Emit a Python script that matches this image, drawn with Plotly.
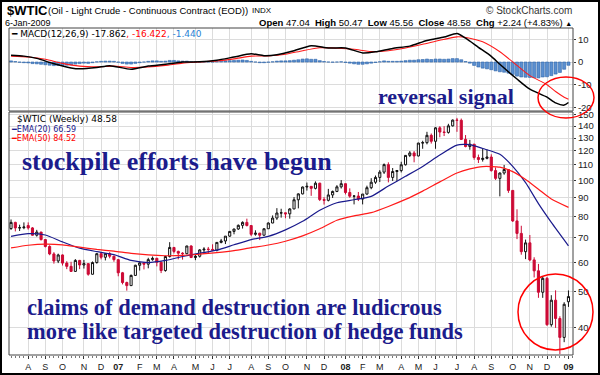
import pandas as pd
import plotly.graph_objects as go

# ---------------- data ----------------
week_start = "2006-07-10"
n_weeks = 131
weeks = pd.date_range(week_start, periods=n_weeks, freq="7D")

opens = [74.1, 77.0, 74.4, 74.5, 75.5, 74.4, 71.1, 72.5, 69.2, 66.3, 63.3, 60.6, 62.9, 59.8, 58.6, 56.8, 60.8, 59.1, 59.6, 55.8, 60.0, 63.4, 62.0, 63.4, 62.4,
         61.1, 56.3, 53.0, 52.0, 55.4, 59.0, 59.9, 59.4, 61.1, 61.6, 60.1, 57.1, 62.3, 65.9, 64.3, 63.6, 63.4, 66.5, 61.9, 62.4, 64.9, 65.2, 65.1, 64.8, 68.0,
         68.6, 70.7, 72.8, 73.9, 75.6, 77.0, 75.5, 71.5, 72.0, 71.1, 74.0, 76.7, 79.1, 81.6, 81.7, 81.2, 83.7, 88.6, 91.9, 95.9, 96.3, 95.1, 98.2, 88.7, 88.3,
         91.3, 93.3, 96.0, 97.9, 92.7, 90.6, 90.7, 89.0, 91.8, 95.5, 98.8, 101.8, 105.2, 110.2, 101.8, 105.6, 106.2, 110.1, 116.7, 118.5, 116.3, 126.0, 126.3, 132.2, 127.4,
         138.5, 134.9, 134.6, 140.2, 145.3, 145.1, 128.9, 123.3, 125.1, 115.2, 113.8, 114.6, 115.5, 106.2, 101.2, 104.6, 106.9, 93.9, 77.7, 71.9, 64.2, 67.8, 61.0, 57.0, 49.9,
         54.4, 40.8, 47.5, 42.4, 37.7, 47.04]
highs = [78.4, 77.3, 75.9, 77.0, 77.0, 74.8, 73.5, 72.6, 69.4, 66.8, 64.0, 63.4, 63.1, 60.5, 60.3, 61.3, 61.0, 61.0, 59.7, 60.4, 63.6, 63.9, 63.5, 64.0, 62.6,
         61.3, 56.6, 53.3, 55.7, 59.2, 60.4, 60.1, 61.8, 62.3, 61.8, 60.4, 62.6, 68.1, 66.1, 64.6, 64.0, 66.6, 66.8, 63.1, 65.2, 66.0, 66.1, 67.2, 68.1, 69.5,
         70.7, 72.9, 74.0, 76.0, 77.5, 78.8, 75.6, 73.3, 72.2, 74.2, 77.0, 80.4, 84.1, 83.8, 81.8, 84.1, 90.1, 92.2, 96.2, 98.6, 96.4, 99.3, 98.5, 90.1, 94.8,
         93.8, 97.0, 100.1, 98.0, 95.1, 91.0, 93.0, 91.8, 96.7, 101.3, 103.0, 106.5, 111.0, 111.8, 107.9, 106.6, 112.2, 117.0, 119.9, 119.9, 126.2, 127.8, 135.1, 133.7, 139.1,
         139.9, 139.9, 142.0, 145.9, 147.3, 146.7, 132.4, 128.5, 125.3, 117.3, 122.2, 121.1, 117.5, 108.3, 105.0, 110.0, 107.0, 94.0, 83.5, 75.4, 69.2, 71.2, 62.0, 59.5, 55.0,
         54.9, 49.0, 50.5, 43.0, 46.9, 50.47]
lows = [73.5, 72.8, 73.0, 73.8, 73.6, 70.9, 70.5, 68.8, 65.9, 62.8, 59.6, 59.8, 58.9, 57.6, 56.6, 56.6, 57.6, 57.8, 55.3, 55.7, 59.6, 61.2, 60.8, 61.6, 60.3,
        55.1, 52.4, 50.4, 51.9, 55.2, 57.1, 57.5, 57.9, 60.7, 58.6, 56.2, 56.7, 61.9, 63.5, 61.2, 61.1, 63.2, 61.7, 60.9, 61.9, 63.3, 63.4, 64.6, 64.3, 67.6,
        67.3, 70.3, 71.5, 73.5, 74.1, 75.1, 70.7, 70.9, 69.0, 71.0, 73.9, 76.6, 78.2, 79.3, 79.0, 78.8, 83.6, 84.0, 91.6, 93.8, 90.8, 94.5, 87.9, 86.0, 87.7,
        89.6, 92.9, 95.0, 91.6, 89.7, 86.1, 87.9, 86.1, 91.4, 94.6, 97.8, 98.9, 104.0, 98.7, 99.6, 99.6, 105.0, 109.6, 115.5, 111.8, 116.0, 121.6, 125.0, 125.6, 121.6,
        130.6, 131.6, 133.6, 139.6, 135.1, 128.6, 122.7, 120.9, 113.6, 111.3, 112.3, 113.9, 105.5, 100.2, 90.5, 103.5, 92.5, 77.2, 69.4, 63.0, 61.3, 60.5, 54.7, 48.2, 48.2,
        40.5, 40.3, 40.0, 34.0, 36.6, 45.56]
closes = [77.0, 74.4, 74.5, 74.8, 74.4, 71.1, 72.5, 69.2, 66.3, 63.3, 60.6, 62.9, 59.8, 58.6, 56.8, 60.8, 59.1, 59.6, 55.8, 60.0, 63.4, 62.0, 63.4, 62.4, 61.1,
          56.3, 53.0, 52.0, 55.4, 59.0, 59.9, 59.4, 61.1, 61.6, 60.1, 57.1, 62.3, 65.9, 64.3, 63.6, 63.4, 66.5, 61.9, 62.4, 64.9, 65.2, 65.1, 64.8, 68.0, 68.6,
          70.7, 72.8, 73.9, 75.6, 77.0, 75.5, 71.5, 72.0, 71.1, 74.0, 76.7, 79.1, 81.6, 81.7, 81.2, 83.7, 88.6, 91.9, 95.9, 96.3, 95.1, 98.2, 88.7, 88.3, 91.3,
          93.3, 96.0, 97.9, 92.7, 90.6, 90.7, 89.0, 91.8, 95.5, 98.8, 101.8, 105.2, 110.2, 101.8, 105.6, 106.2, 110.1, 116.7, 118.5, 116.3, 126.0, 126.3, 132.2, 127.4, 138.5,
          134.9, 134.6, 140.2, 145.3, 145.1, 128.9, 123.3, 125.1, 115.2, 113.8, 114.6, 115.5, 106.2, 101.2, 104.6, 106.9, 93.9, 77.7, 71.9, 64.2, 67.8, 61.0, 57.0, 49.9, 54.4,
          40.8, 47.5, 42.4, 37.7, 46.3, 48.58]

ema_dates = ["2006-07-10", "2006-08-07", "2006-09-04", "2006-10-02", "2006-10-30", "2006-11-27", "2006-12-25", "2007-01-22", "2007-02-19",
             "2007-03-19", "2007-04-16", "2007-05-14", "2007-06-11", "2007-07-09", "2007-08-06", "2007-09-03", "2007-10-01", "2007-10-29",
             "2007-11-26", "2007-12-24", "2008-01-21", "2008-02-18", "2008-03-17", "2008-04-14", "2008-05-12", "2008-06-09", "2008-07-07",
             "2008-07-28", "2008-08-18", "2008-09-15", "2008-10-06", "2008-10-27", "2008-11-17", "2008-12-08", "2009-01-05"]
ema20 = [70.6, 71.8, 71.2, 68.2, 65.6, 64.2, 63.0, 60.8, 60.0, 60.8, 62.3, 63.6, 64.8, 67.0, 69.2, 70.6, 73.5, 77.5, 83.0, 87.0,
         88.6, 90.5, 96.5, 102.5, 109.0, 117.0, 124.4, 124.8, 121.8, 117.5, 109.0, 98.5, 86.5, 77.0, 66.59]
ema50 = [65.7, 66.8, 67.3, 67.0, 66.0, 65.1, 64.4, 63.5, 62.9, 62.6, 62.7, 63.2, 63.8, 64.6, 65.8, 66.9, 68.5, 70.8, 74.0, 78.0,
         80.2, 81.8, 85.0, 88.8, 93.5, 99.0, 104.6, 107.3, 108.9, 108.5, 105.5, 100.5, 94.6, 89.0, 84.52]

macd_dates = ["2006-07-10", "2006-07-31", "2006-08-21", "2006-09-18", "2006-10-16", "2006-10-30", "2006-11-27", "2006-12-18", "2007-01-22",
              "2007-02-19", "2007-03-19", "2007-04-16", "2007-05-14", "2007-06-11", "2007-07-09", "2007-08-06", "2007-08-27", "2007-09-17",
              "2007-10-15", "2007-11-12", "2007-12-10", "2008-01-07", "2008-02-04", "2008-02-25", "2008-03-24", "2008-04-21", "2008-05-19",
              "2008-06-16", "2008-07-07", "2008-07-21", "2008-08-11", "2008-09-01", "2008-09-15", "2008-10-13", "2008-11-03", "2008-12-01",
              "2008-12-15", "2008-12-29", "2009-01-05"]
macd_line = [3.0, 2.6, 1.6, -0.8, -2.6, -3.0, -2.4, -1.6, -3.2, -1.8, -1.0, 0.0, 0.1, 0.8, 2.2, 3.6, 2.8, 3.2, 5.0, 7.2,
             6.2, 6.2, 4.0, 4.5, 6.0, 7.0, 9.5, 11.0, 12.6, 10.5, 6.5, 2.5, -1.0, -7.5, -12.0, -15.5, -18.0, -19.0, -17.862]
signal_dates = ["2006-07-10", "2006-08-07", "2006-09-04", "2006-10-02", "2006-10-30", "2006-11-27", "2006-12-25", "2007-01-22", "2007-02-19",
                "2007-03-19", "2007-04-16", "2007-05-14", "2007-06-11", "2007-07-09", "2007-08-06", "2007-09-03", "2007-10-01", "2007-10-29",
                "2007-11-26", "2007-12-24", "2008-01-21", "2008-02-18", "2008-03-17", "2008-04-14", "2008-05-12", "2008-06-09", "2008-07-07",
                "2008-07-28", "2008-08-18", "2008-09-15", "2008-10-13", "2008-11-03", "2008-12-01", "2008-12-15", "2008-12-29", "2009-01-05"]
signal_line = [2.6, 2.2, 1.2, -0.6, -1.8, -2.1, -1.8, -2.4, -2.2, -1.5, -0.5, 0.0, 0.5, 1.4, 2.6, 2.7, 3.4, 5.0, 6.3, 6.1,
               5.6, 4.6, 5.0, 6.2, 7.8, 9.6, 11.1, 10.5, 8.9, 4.5, -1.5, -6.0, -10.0, -13.0, -15.5, -16.422]
macd_hist = [0.5, 0.2, -0.1, -0.3, -0.4, -0.7, -0.8, -1.0, -1.2, -1.4, -1.6, -1.5, -1.5, -1.4, -1.3, -0.9, -0.7, -0.5, -0.6, -0.3, 0.1, 0.3, 0.4, 0.4, 0.3,
             -0.1, -0.6, -0.9, -0.9, -0.6, -0.3, 0.0, 0.3, 0.5, 0.5, 0.3, 0.4, 0.7, 0.7, 0.5, 0.4, 0.4, 0.1, -0.1, 0.0, 0.1, 0.1, 0.0, 0.2, 0.3,
             0.5, 0.6, 0.7, 0.8, 0.9, 0.7, 0.3, 0.0, -0.3, -0.3, -0.1, 0.1, 0.4, 0.5, 0.5, 0.6, 0.8, 1.0, 1.3, 1.4, 1.2, 1.2, 0.6, 0.2, 0.0,
             -0.1, 0.0, 0.1, -0.2, -0.5, -0.8, -1.0, -1.0, -0.8, -0.5, -0.2, 0.1, 0.5, 0.3, 0.3, 0.3, 0.4, 0.6, 0.8, 0.8, 1.0, 1.1, 1.3, 1.1, 1.3,
             1.3, 1.2, 1.3, 1.5, 1.5, 1.0, 0.2, -0.5, -1.5, -2.2, -2.7, -3.0, -3.4, -3.9, -4.3, -4.5, -4.9, -5.5, -6.2, -6.6, -6.7, -6.8, -6.9, -7.0, -6.6,
             -6.5, -6.0, -5.3, -4.6, -3.2, -1.44]

month_ticks = ["2006-08-07", "2006-09-04", "2006-10-02", "2006-11-06", "2006-12-04", "2007-01-01", "2007-02-05", "2007-03-05", "2007-04-02",
               "2007-05-07", "2007-06-04", "2007-07-02", "2007-08-06", "2007-09-03", "2007-10-01", "2007-11-05", "2007-12-03", "2008-01-07",
               "2008-02-04", "2008-03-03", "2008-04-07", "2008-05-05", "2008-06-02", "2008-07-07", "2008-08-04", "2008-09-01", "2008-10-06",
               "2008-11-03", "2008-12-01", "2009-01-05"]
month_labels = ["A", "S", "O", "N", "D", "<b>07</b>", "F", "M", "A", "M", "J", "J", "A", "S", "O", "N", "D", "<b>08</b>",
                "F", "M", "A", "M", "J", "J", "A", "S", "O", "N", "D", "<b>09</b>"]
price_ticks = [40, 50, 60, 70, 80, 90, 100, 110, 120, 130, 140, 150]
macd_ticks = [-20, -10, 0, 10]

# ---------------- layout helpers ----------------
W, H = 600, 375
L, R, T, B = 9, 27, 28, 20
PW, PH = W - L - R, H - T - B


def ax(px):
    return (px - L) / PW


def ay(py):
    return (H - B - py) / PH


fig = go.Figure()

# candles coloured StockCharts-style: black if close >= previous close, red otherwise
prev_close = [closes[0]] + closes[:-1]
groups = {
    "black": [i for i in range(n_weeks) if closes[i] >= prev_close[i]],
    "red": [i for i in range(n_weeks) if closes[i] < prev_close[i]],
}
styles = {"black": ("#111111", "white", "#111111"), "red": ("#cc0a35", "white", "#cc0a35")}
for g, idx in groups.items():
    lc, inc_fill, dec_fill = styles[g]
    fig.add_trace(go.Candlestick(
        x=[weeks[i] for i in idx], open=[opens[i] for i in idx], high=[highs[i] for i in idx],
        low=[lows[i] for i in idx], close=[closes[i] for i in idx],
        increasing=dict(line=dict(color=lc, width=1), fillcolor=inc_fill),
        decreasing=dict(line=dict(color=lc, width=1), fillcolor=dec_fill),
        whiskerwidth=0, showlegend=False, hoverinfo="skip", xaxis="x", yaxis="y"))

fig.add_trace(go.Scatter(x=pd.to_datetime(ema_dates), y=ema20, mode="lines", line=dict(color="#1a1a8c", width=1.2, shape="spline", smoothing=0.6),
                         hoverinfo="skip", xaxis="x", yaxis="y"))
fig.add_trace(go.Scatter(x=pd.to_datetime(ema_dates), y=ema50, mode="lines", line=dict(color="#ff1a1a", width=1.2, shape="spline", smoothing=0.6),
                         hoverinfo="skip", xaxis="x", yaxis="y"))

# MACD panel
fig.add_trace(go.Bar(x=weeks, y=macd_hist, width=5 * 86400000, marker=dict(color="#5a8fd0", line=dict(color="#2c63a8", width=0.6)),
                     hoverinfo="skip", xaxis="x", yaxis="y2"))
fig.add_trace(go.Scatter(x=pd.to_datetime(signal_dates), y=signal_line, mode="lines", line=dict(color="#ff1a1a", width=1.1, shape="spline", smoothing=0.6),
                         hoverinfo="skip", xaxis="x", yaxis="y2"))
fig.add_trace(go.Scatter(x=pd.to_datetime(macd_dates), y=macd_line, mode="lines", line=dict(color="#000000", width=1.5, shape="spline", smoothing=0.6),
                         hoverinfo="skip", xaxis="x", yaxis="y2"))

grid = "#dcdcdc"
tickfont = dict(family="Arial", size=9.5, color="#222")
fig.update_layout(
    width=W, height=H, margin=dict(l=L, r=R, t=T, b=B, pad=0, autoexpand=False),
    paper_bgcolor="white", plot_bgcolor="white", showlegend=False, bargap=0, hovermode=False,
    xaxis=dict(type="date", range=["2006-07-06 16:00", "2009-01-12 10:00"], tickvals=month_ticks, ticktext=month_labels,
               showgrid=True, gridcolor=grid, gridwidth=1, ticks="outside", ticklen=3, tickcolor="#333",
               tickfont=dict(family="Arial", size=9, color="#222"), rangeslider=dict(visible=False),
               showline=False, zeroline=False, anchor="y",
               minor=dict(ticks="outside", ticklen=2, tickcolor="#777", dtick=7 * 86400000, tick0=week_start, showgrid=False)),
    yaxis=dict(type="log", domain=[0, (H - B - 112) / PH], range=[1.5289, 2.1841], side="right", tickvals=price_ticks,
               ticktext=[str(v) for v in price_ticks], showgrid=True, gridcolor=grid, ticks="outside", ticklen=2, tickcolor="#333",
               tickfont=tickfont, showline=False, zeroline=False, anchor="x"),
    yaxis2=dict(domain=[(H - B - 111) / PH, 1], range=[-21.6, 15.0], side="right", tickvals=macd_ticks,
                ticktext=[str(v) for v in macd_ticks], showgrid=True, gridcolor=grid, ticks="outside", ticklen=2, tickcolor="#333",
                tickfont=tickfont, showline=False, zeroline=False, anchor="x"),
)

shapes = [
    dict(type="rect", xref="x domain", yref="y domain", x0=0, x1=1, y0=0, y1=1, line=dict(color="#444", width=1)),
    dict(type="rect", xref="x domain", yref="y2 domain", x0=0, x1=1, y0=0, y1=1, line=dict(color="#444", width=1)),
    # red highlight circles
    dict(type="circle", xref="paper", yref="paper", x0=ax(538), x1=ax(594), y0=ay(118), y1=ay(77), line=dict(color="#ff0000", width=1.5)),
    dict(type="circle", xref="paper", yref="paper", x0=ax(518), x1=ax(593), y0=ay(350), y1=ay(274), line=dict(color="#ff0000", width=1.5)),
    # outer frame
    dict(type="rect", xref="paper", yref="paper", x0=ax(1), x1=ax(599), y0=ay(374), y1=ay(1), line=dict(color="#000", width=2)),
]
fig.update_layout(shapes=shapes)

navy = "#1c1c8c"
ann = []


def add(text, x, y, size, color="#000", family="Arial", xanchor="left"):
    ann.append(dict(text=text, x=ax(x), y=ay(y), xref="paper", yref="paper", xanchor=xanchor, yanchor="middle",
                    showarrow=False, font=dict(family=family, size=size, color=color)))


add("<b>$WTIC</b>", 5, 10, 13)
add("(Oil - Light Crude - Continuous Contract (EOD))", 46, 10.5, 9.5)
add("INDX", 250, 10.5, 8)
add("6-Jan-2009", 3, 23, 9)
add("© StockCharts.com", 574, 10, 10, "#333", xanchor="right")
add("<b>Open</b> 47.04  <b>High</b> 50.47  <b>Low</b> 45.56  <b>Close</b> 48.58  <b>Chg</b> +2.24 (+4.83%) <span style='font-size:7px'>▲</span>",
    574, 22.5, 9.5, xanchor="right")
add("<b>━</b> MACD(12,26,9) -17.862<span style='color:#ff0000'>, -16.422</span><span style='color:#2a7fd4'>, -1.440</span>",
    9, 34, 9, family="DejaVu Sans")
add("$WTIC (Weekly) 48.58", 15, 119, 9, family="DejaVu Sans")
add("<b>━</b>EMA(20) 66.59", 9, 129, 8, "#1a1a8c", family="DejaVu Sans")
add("<b>━</b>EMA(50) 84.52", 9, 138, 8, "#ff0000", family="DejaVu Sans")

serif = "Liberation Serif"
add("<b>reversal signal</b>", 376, 97, 22, navy, family=serif)
add("<b>stockpile efforts have begun</b>", 20, 161, 26, navy, family=serif)
add("<b>claims of demand destruction are ludicrous</b>", 25, 307, 22.5, navy, family=serif)
add("<b>more like targeted destruction of hedge funds</b>", 25, 331, 22.5, navy, family=serif)

fig.update_layout(annotations=ann)
fig.write_html("out.html", config={"displayModeBar": False, "staticPlot": True},
               post_script="document.body.style.margin='0px';document.body.style.overflow='hidden';")
